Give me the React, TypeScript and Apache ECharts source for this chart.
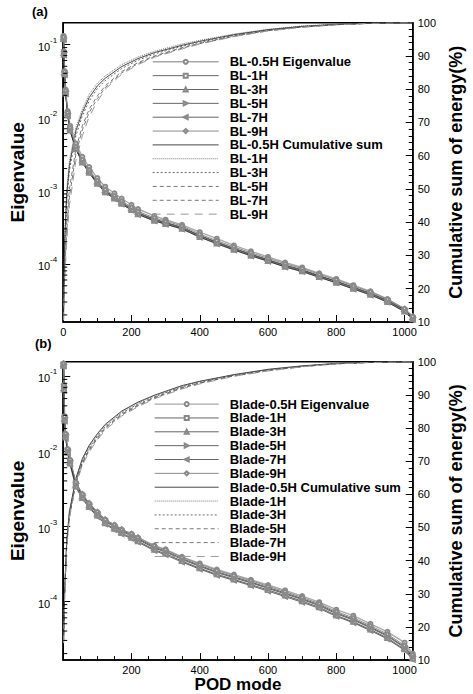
import React, { useEffect, useRef } from "react";
import * as echarts from "echarts";

// ---------- data ----------
const modesE = [1, 2, 4, 7, 13, 20, 37, 56, 76, 100, 123, 150, 171, 200, 219, 267, 300, 348, 400, 450, 500, 550, 600, 650, 700, 750, 800, 850, 900, 950, 1000, 1024];
const modesC = [1, 4, 10, 18, 37, 56, 76, 100, 123, 171, 219, 267, 348, 400, 500, 600, 700, 800, 900, 1024];

const topLegendLabels = ["BL-0.5H Eigenvalue", "BL-1H", "BL-3H", "BL-5H", "BL-7H", "BL-9H", "BL-0.5H Cumulative sum", "BL-1H", "BL-3H", "BL-5H", "BL-7H", "BL-9H"];
const botLegendLabels = ["Blade-0.5H Eigenvalue", "Blade-1H", "Blade-3H", "Blade-5H", "Blade-7H", "Blade-9H", "Blade-0.5H Cumulative sum", "Blade-1H", "Blade-3H", "Blade-5H", "Blade-7H", "Blade-9H"];

// (a) eigenvalues
const topE05 = [0.13, 0.08, 0.043, 0.024, 0.0122, 0.0077, 0.0044, 0.0029, 0.0021, 0.00148, 0.00113, 0.00092, 0.00078, 0.00064, 0.00056, 0.00045, 0.0004, 0.00034, 0.00027, 0.00022, 0.000178, 0.000148, 0.000124, 0.000104, 0.000089, 0.000074, 0.000062, 0.000051, 0.000042, 0.000033, 0.000024, 0.000019];
const topE1 = [0.12, 0.075, 0.04, 0.022, 0.011, 0.0068, 0.0038, 0.0025, 0.0018, 0.00128, 0.00098, 0.0008, 0.00068, 0.00056, 0.00049, 0.0004, 0.00036, 0.00031, 0.00024, 0.000195, 0.00016, 0.000133, 0.000112, 0.000094, 0.000081, 0.000068, 0.000057, 0.000047, 0.000039, 0.000031, 0.000023, 0.000018];
const topE3 = [0.118, 0.072, 0.039, 0.0212, 0.0106, 0.0066, 0.0037, 0.00243, 0.00175, 0.00124, 0.00095, 0.00078, 0.00066, 0.000545, 0.000476, 0.000388, 0.000349, 0.000301, 0.000233, 0.000189, 0.000155, 0.000129, 0.000109, 0.000091, 0.000079, 0.000066, 0.000055, 0.0000455, 0.0000378, 0.00003, 0.0000223, 0.0000175];
const topE5 = [0.122, 0.077, 0.041, 0.0225, 0.0112, 0.0069, 0.00388, 0.00255, 0.00184, 0.0013, 0.001, 0.00082, 0.000695, 0.00057, 0.0005, 0.000408, 0.000367, 0.000316, 0.000245, 0.000199, 0.000163, 0.000136, 0.000114, 0.000096, 0.000083, 0.000069, 0.000058, 0.000048, 0.0000398, 0.0000316, 0.0000235, 0.0000184];
const topE7 = [0.115, 0.071, 0.038, 0.021, 0.0105, 0.0065, 0.00365, 0.0024, 0.00173, 0.00123, 0.00094, 0.00077, 0.000653, 0.000538, 0.00047, 0.000384, 0.000346, 0.000298, 0.00023, 0.000187, 0.000154, 0.000128, 0.000108, 0.00009, 0.000078, 0.000065, 0.0000547, 0.0000451, 0.0000374, 0.0000298, 0.0000221, 0.0000173];
const topE9 = [0.125, 0.079, 0.042, 0.0233, 0.0117, 0.0072, 0.00403, 0.00265, 0.00191, 0.00136, 0.00104, 0.00085, 0.00072, 0.000594, 0.00052, 0.000424, 0.000382, 0.000329, 0.000254, 0.000207, 0.00017, 0.000141, 0.000119, 0.0001, 0.000086, 0.000072, 0.0000604, 0.0000498, 0.0000413, 0.0000329, 0.0000244, 0.0000191];

// (a) cumulative sums (%)
const topC05 = [15, 34, 48, 57, 67.5, 73, 77.5, 81, 83.3, 86.8, 89.2, 91, 93.2, 94.4, 96.4, 97.9, 98.9, 99.5, 99.85, 100];
const topC1 = [16, 35.5, 49.5, 58.5, 68.5, 74, 78.5, 81.8, 84, 87.4, 89.7, 91.4, 93.6, 94.7, 96.6, 98, 99, 99.55, 99.87, 100];
const topC3 = [14, 32, 46, 55.5, 66, 72, 76.5, 80.2, 82.6, 86.2, 88.7, 90.6, 92.9, 94.1, 96.2, 97.8, 98.8, 99.45, 99.82, 100];
const topC5 = [12, 27, 40, 50, 62, 69, 74, 78, 81, 85.3, 88, 90, 92.5, 93.8, 96, 97.6, 98.7, 99.4, 99.8, 100];
const topC7 = [11, 24.5, 37, 47.5, 60.5, 67.8, 73, 77.2, 80.5, 84.9, 87.7, 89.8, 92.3, 93.7, 95.9, 97.6, 98.7, 99.4, 99.8, 100];
const topC9 = [10.5, 22, 34, 45, 58.5, 66, 71.8, 76.3, 80, 84.5, 87.4, 89.6, 92.1, 93.6, 95.8, 97.5, 98.6, 99.35, 99.8, 100];

// (b) eigenvalues
const botE05 = [0.145, 0.075, 0.029, 0.017, 0.0106, 0.0076, 0.0038, 0.00265, 0.002, 0.00153, 0.00122, 0.00103, 0.0009, 0.00079, 0.0007, 0.00055, 0.00049, 0.00039, 0.000318, 0.000264, 0.000226, 0.000193, 0.000164, 0.000139, 0.000117, 0.000097, 0.000077, 0.000064, 0.00005, 0.000039, 0.000028, 0.00002];
const botE1 = [0.14, 0.07, 0.027, 0.016, 0.01, 0.0072, 0.0036, 0.0025, 0.0019, 0.00145, 0.00115, 0.00097, 0.00085, 0.00074, 0.00066, 0.00051, 0.00045, 0.00036, 0.00029, 0.00024, 0.000205, 0.000175, 0.000148, 0.000125, 0.000105, 0.000087, 0.000068, 0.000056, 0.000044, 0.000034, 0.000024, 0.000018];
const botE3 = [0.137, 0.066, 0.0255, 0.0152, 0.0095, 0.0068, 0.0034, 0.00237, 0.0018, 0.00138, 0.00109, 0.00092, 0.00081, 0.0007, 0.00063, 0.000485, 0.000428, 0.000342, 0.000275, 0.000228, 0.000195, 0.000166, 0.000141, 0.000119, 0.0001, 0.000083, 0.0000645, 0.000053, 0.0000418, 0.0000323, 0.0000228, 0.0000172];
const botE5 = [0.142, 0.072, 0.028, 0.0165, 0.0103, 0.0074, 0.0037, 0.00258, 0.00196, 0.00149, 0.00118, 0.001, 0.00088, 0.00076, 0.00068, 0.000525, 0.000464, 0.000371, 0.000299, 0.000247, 0.000211, 0.00018, 0.000152, 0.000129, 0.000108, 0.00009, 0.00007, 0.0000577, 0.0000453, 0.000035, 0.0000247, 0.0000185];
const botE7 = [0.135, 0.064, 0.025, 0.0148, 0.0092, 0.0066, 0.0033, 0.0023, 0.00175, 0.00133, 0.00106, 0.00089, 0.00078, 0.00068, 0.00061, 0.00047, 0.000414, 0.000331, 0.000267, 0.000221, 0.000189, 0.000161, 0.000136, 0.000115, 0.0000966, 0.00008, 0.0000626, 0.0000515, 0.0000405, 0.0000313, 0.0000221, 0.0000166];
const botE9 = [0.148, 0.076, 0.029, 0.0171, 0.0107, 0.0077, 0.00385, 0.00268, 0.00203, 0.00155, 0.00123, 0.00104, 0.00091, 0.00079, 0.00071, 0.000546, 0.000482, 0.000385, 0.00031, 0.000257, 0.000219, 0.000187, 0.000158, 0.000134, 0.000112, 0.000093, 0.0000728, 0.00006, 0.0000471, 0.0000364, 0.0000257, 0.0000193];

// (b) cumulative sums (%)
const botC05 = [16.6, 30.8, 45.8, 54.8, 64.8, 70.8, 74.8, 78.3, 81.1, 85.1, 87.8, 89.9, 92.8, 94.1, 96.1, 97.7, 98.75, 99.48, 99.82, 100];
const botC1 = [16.3, 30.4, 45.4, 54.4, 64.4, 70.4, 74.4, 77.9, 80.8, 84.8, 87.5, 89.7, 92.6, 94, 96, 97.6, 98.7, 99.45, 99.81, 100];
const botC3 = [16, 30, 45, 54, 64, 70, 74, 77.5, 80.4, 84.5, 87.2, 89.4, 92.4, 93.8, 95.9, 97.5, 98.6, 99.4, 99.8, 100];
const botC5 = [15.7, 29.6, 44.6, 53.6, 63.6, 69.6, 73.6, 77.1, 80.1, 84.2, 86.9, 89.2, 92.2, 93.6, 95.8, 97.4, 98.55, 99.38, 99.79, 100];
const botC7 = [15.4, 29.2, 44.1, 53.2, 63.2, 69.2, 73.2, 76.8, 79.8, 83.9, 86.7, 89, 92, 93.5, 95.7, 97.3, 98.5, 99.35, 99.77, 100];
const botC9 = [15.1, 28.8, 43.7, 52.8, 62.8, 68.8, 72.8, 76.4, 79.4, 83.6, 86.4, 88.8, 91.8, 93.3, 95.6, 97.2, 98.45, 99.32, 99.75, 100];

// axis ticks
const xTicksInterval = 200;
const rightTicksInterval = 10;
const minorMultipliers = [2, 3, 4, 5, 6, 7, 8, 9];
const decades = [-5, -4, -3, -2, -1];

// ---------- styling ----------
const FONT = "'Liberation Sans', Arial, Helvetica, sans-serif";
const eigenSymbols = ["emptyCircle", "emptyRect", "emptyTriangle", "emptyTriangle", "emptyTriangle", "emptyDiamond"];
const eigenRotate = [0, 0, 0, -90, 90, 0];
const eigenLineColor = ["#a8a8a8", "#222", "#222", "#222", "#222", "#8c8c8c"];
const eigenLineWidth = [1.4, 0.7, 0.7, 0.7, 0.7, 1.0];
const cumDash: any[] = ["solid", [1, 1], [2, 2], [4, 3], [4, 3], [8, 6]];
const cumColor = ["#333", "#555", "#444", "#555", "#555", "#999"];
const cumWidth = [0.9, 0.8, 0.8, 0.8, 0.8, 1.0];

export default function App() {
  const ref = useRef<HTMLDivElement>(null);
  useEffect(() => {
    if (!ref.current) return;
    const chart = echarts.init(ref.current, null, { renderer: "svg" });

    const panels = [
      { eig: [topE05, topE1, topE3, topE5, topE7, topE9], cum: [topC05, topC1, topC3, topC5, topC7, topC9], labels: topLegendLabels, min: 1.6e-5, max: 0.197 },
      { eig: [botE05, botE1, botE3, botE5, botE7, botE9], cum: [botC05, botC1, botC3, botC5, botC7, botC9], labels: botLegendLabels, min: 1.64e-5, max: 0.155 },
    ];

    const nameMap: Record<string, string> = {};
    const series: any[] = [];
    const legendData: any[][] = [[], []];

    panels.forEach((p, g) => {
      p.eig.forEach((vals, i) => {
        const id = `p${g}-e${i}`;
        nameMap[id] = p.labels[i];
        legendData[g].push({
          name: id,
          itemStyle: { color: "#888", borderColor: "#888", borderWidth: 0.8 },
          lineStyle: { color: eigenLineColor[i], width: eigenLineWidth[i] },
        });
        series.push({
          type: "line",
          name: id,
          xAxisIndex: g,
          yAxisIndex: g * 2,
          data: modesE.map((m, k) => [m, vals[k]]),
          symbol: eigenSymbols[i],
          symbolRotate: eigenRotate[i],
          symbolSize: 4,
          showSymbol: true,
          itemStyle: { color: "#8a8a8a", borderWidth: 0.6 },
          lineStyle: { color: eigenLineColor[i], width: eigenLineWidth[i] },
          z: 3,
        });
      });
      p.cum.forEach((vals, i) => {
        const id = `p${g}-c${i}`;
        nameMap[id] = p.labels[6 + i];
        legendData[g].push({
          name: id,
          itemStyle: { opacity: 0 },
          lineStyle: { color: cumColor[i], width: cumWidth[i], type: cumDash[i] },
        });
        series.push({
          type: "line",
          name: id,
          xAxisIndex: g,
          yAxisIndex: g * 2 + 1,
          data: modesC.map((m, k) => [m, vals[k]]),
          symbol: "none",
          showSymbol: false,
          itemStyle: { color: cumColor[i] },
          lineStyle: { color: cumColor[i], width: cumWidth[i], type: cumDash[i] },
          z: 2,
        });
      });
      // minor log ticks on left axis
      const minorData: number[][] = [];
      decades.forEach((d) => minorMultipliers.forEach((m) => {
        const v = m * Math.pow(10, d);
        if (v > p.min && v < p.max) minorData.push([0, v]);
      }));
      series.push({
        type: "custom",
        name: `p${g}-minor`,
        xAxisIndex: g,
        yAxisIndex: g * 2,
        silent: true,
        clip: false,
        data: minorData,
        z: 5,
        renderItem: (_params: any, api: any) => {
          const pt = api.coord([api.value(0), api.value(1)]);
          return { type: "line", shape: { x1: pt[0], y1: pt[1], x2: pt[0] + 4, y2: pt[1] }, style: { stroke: "#000", lineWidth: 1 } };
        },
      });
    });

    const grids = [
      { left: 62, right: 55, top: 22.7, height: 299.3 },
      { left: 62, right: 55, top: 361.7, height: 299 },
    ];

    const xAxis = grids.map((_, g) => ({
      type: "value",
      gridIndex: g,
      min: 0,
      max: 1024,
      interval: xTicksInterval,
      name: g === 1 ? "POD mode" : "",
      nameLocation: "middle",
      nameGap: 15,
      nameTextStyle: { fontSize: 17, fontWeight: "bold", color: "#000", fontFamily: FONT, verticalAlign: "top" },
      axisLine: { show: true, lineStyle: { color: "#000", width: 1.5 } },
      axisTick: { show: true, inside: true, length: 7, lineStyle: { color: "#000", width: 1 } },
      minorTick: { show: true, splitNumber: 4, length: 4, lineStyle: { color: "#000", width: 1 } },
      splitLine: { show: false },
      axisLabel: { fontSize: 11, color: "#000", fontFamily: FONT, margin: 4, showMaxLabel: false, showMinLabel: g === 0, formatter: (v: number) => String(v) },
    }));

    const yAxis: any[] = [];
    panels.forEach((p, g) => {
      yAxis.push({
        type: "log",
        logBase: 10,
        gridIndex: g,
        min: p.min,
        max: p.max,
        position: "left",
        name: "Eigenvalue",
        nameLocation: "middle",
        nameGap: 14,
        nameRotate: 90,
        nameTextStyle: { fontSize: 19, fontWeight: "bold", color: "#000", fontFamily: FONT },
        axisLine: { show: true, lineStyle: { color: "#000", width: 1.5 } },
        axisTick: { show: true, inside: true, length: 7, lineStyle: { color: "#000", width: 1 } },
        splitLine: { show: false },
        axisLabel: {
          color: "#000",
          margin: 6,
          showMinLabel: false,
          showMaxLabel: false,
          formatter: (v: number) => `{b|10}{s|${Math.round(Math.log10(v))}}`,
          rich: {
            b: { fontSize: 11, fontFamily: FONT, color: "#000", lineHeight: 16, verticalAlign: "bottom" },
            s: { fontSize: 8, fontFamily: FONT, color: "#000", lineHeight: 16, verticalAlign: "top" },
          },
        },
      });
      yAxis.push({
        type: "value",
        gridIndex: g,
        min: 10,
        max: 100,
        interval: rightTicksInterval,
        position: "right",
        name: "Cumulative sum of energy(%)",
        nameLocation: "middle",
        nameGap: 28,
        nameRotate: 90,
        nameTextStyle: { fontSize: 18, fontWeight: "bold", color: "#000", fontFamily: FONT },
        axisLine: { show: true, lineStyle: { color: "#000", width: 1.5 } },
        axisTick: { show: true, inside: true, length: 7, lineStyle: { color: "#000", width: 1 } },
        minorTick: { show: true, splitNumber: 5, length: 4, lineStyle: { color: "#000", width: 1 } },
        splitLine: { show: false },
        axisLabel: { fontSize: 11, color: "#000", fontFamily: FONT, margin: 5 },
      });
    });

    const legendTops = [55.3, 397.6];
    const legendLefts = [152, 154];
    const legendWidths = [66, 64];
    const legend = [0, 1].map((g) => ({
      data: legendData[g],
      orient: "vertical",
      left: legendLefts[g],
      top: legendTops[g],
      padding: 0,
      itemGap: 0.85,
      itemWidth: legendWidths[g],
      itemHeight: 5,
      selectedMode: false,
      formatter: (name: string) => nameMap[name] || name,
      textStyle: { fontSize: 13, fontWeight: "bold", color: "#000", fontFamily: FONT, lineHeight: 12, padding: [0, 0, 0, 6] },
    }));

    chart.setOption({
      animation: false,
      backgroundColor: "#fff",
      title: [
        { text: "(a)", left: 32, top: 5, padding: 0, textStyle: { fontSize: 13, fontWeight: "bold", color: "#000", fontFamily: FONT } },
        { text: "(b)", left: 35, top: 337, padding: 0, textStyle: { fontSize: 13, fontWeight: "bold", color: "#000", fontFamily: FONT } },
      ],
      grid: grids.map((gr) => ({ ...gr, show: true, borderColor: "#000", borderWidth: 1.5, backgroundColor: "transparent" })),
      xAxis,
      yAxis,
      legend,
      series,
    });
    return () => chart.dispose();
  }, []);
  return <div ref={ref} style={{ position: "fixed", left: 0, top: 0, width: 473, height: 694, background: "#fff" }} />;
}
